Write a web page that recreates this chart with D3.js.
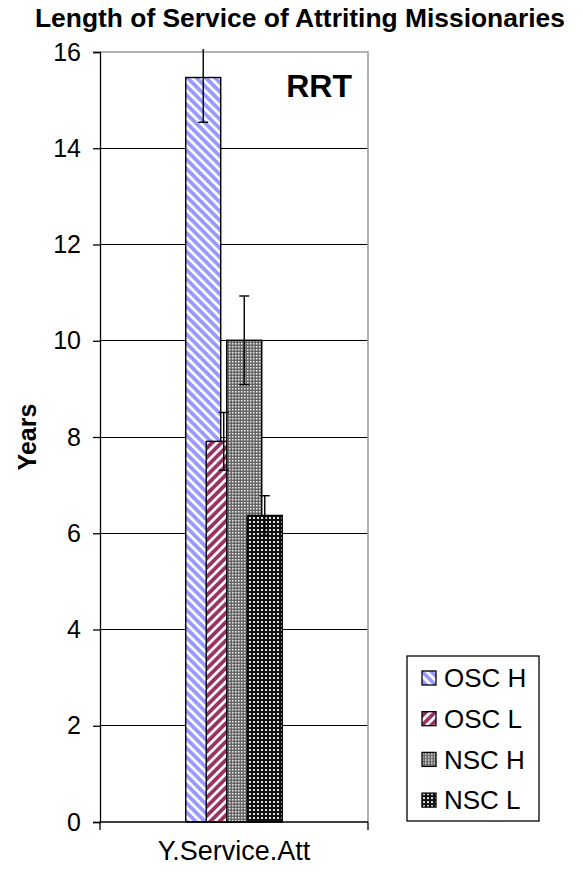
<!DOCTYPE html>
<html>
<head>
<meta charset="utf-8">
<script src="https://cdn.jsdelivr.net/npm/d3@7"></script>
<style>
  body { margin: 0; background: #fff; }
  svg { font-family: "Liberation Sans", Arial, sans-serif; }
</style>
</head>
<body>
<div id="chart"></div>
<script>
// chart values
var categories = ["Y.Service.Att"];
var seriesNames = ["OSC H", "OSC L", "NSC H", "NSC L"];
var seriesMeans = [15.47, 7.91, 10.01, 6.37];
var seriesErrors = [0.93, 0.60, 0.92, 0.41];
var yTickValues = [0, 2, 4, 6, 8, 10, 12, 14, 16];

var svgWidth = 583;
var svgHeight = 872;

var margin = { top: 52, left: 100, right: 215, bottom: 50 };
var width = svgWidth - margin.left - margin.right;   // 268
var height = svgHeight - margin.top - margin.bottom; // 770

var svg = d3.select("#chart")
    .append("svg")
    .attr("width", svgWidth)
    .attr("height", svgHeight);

// Fill patterns (Excel-like)
var defs = svg.append("defs");

function stripes(id, color, angle) {
    var p = defs.append("pattern")
        .attr("id", id)
        .attr("patternUnits", "userSpaceOnUse")
        .attr("width", 6.5)
        .attr("height", 6.5)
        .attr("patternTransform", "rotate(" + angle + ")");
    p.append("rect").attr("width", 6.5).attr("height", 6.5).attr("fill", color);
    p.append("rect").attr("width", 2.7).attr("height", 6.5).attr("fill", "#fff");
}
stripes("pOscH", "#9999ff", -45);
stripes("pOscL", "#993366", 45);

var pNh = defs.append("pattern")
    .attr("id", "pNscH")
    .attr("patternUnits", "userSpaceOnUse")
    .attr("width", 3).attr("height", 3);
pNh.append("rect").attr("width", 3).attr("height", 3).attr("fill", "#666");
pNh.append("rect").attr("width", 1.5).attr("height", 1.5).attr("fill", "#eee");

var pNl = defs.append("pattern")
    .attr("id", "pNscL")
    .attr("patternUnits", "userSpaceOnUse")
    .attr("width", 4).attr("height", 4);
pNl.append("rect").attr("width", 4).attr("height", 4).attr("fill", "#111");
pNl.append("rect").attr("x", 1).attr("y", 1).attr("width", 2).attr("height", 2).attr("fill", "#e0e0e0");

var fills = ["url(#pOscH)", "url(#pOscL)", "url(#pNscH)", "url(#pNscL)"];

var chartGroup = svg.append("g")
    .attr("transform", `translate(${margin.left}, ${margin.top})`);

// Scales
var yLinearScale = d3.scaleLinear()
    .domain([0, 16])
    .range([height, 0]);

var xCat = d3.scaleBand()
    .domain(categories)
    .range([0, width]);

// Excel style: overlapping bars within the group
var overlap = 0.414, gapWidth = 4.9;
var n = seriesNames.length;
var barW = width / (gapWidth + 1 + (n - 1) * (1 - overlap));
var step = barW * (1 - overlap);
var groupW = barW + (n - 1) * step;
var groupStart = xCat(categories[0]) + (xCat.bandwidth() - groupW) / 2;

var xSer = d3.scalePoint()
    .domain(seriesNames)
    .range([groupStart, groupStart + (n - 1) * step]);

// Grid lines
chartGroup.append("g")
    .selectAll("line")
    .data(yTickValues.filter(d => d > 0 && d < 16))
    .enter()
    .append("line")
    .attr("x1", 0)
    .attr("x2", width)
    .attr("y1", d => yLinearScale(d))
    .attr("y2", d => yLinearScale(d))
    .attr("stroke", "#000")
    .attr("stroke-width", 1)
    .attr("shape-rendering", "crispEdges");

// Plot area border (top + right, gray)
chartGroup.append("path")
    .attr("d", `M0,${yLinearScale(16)}H${width}V${height}`)
    .attr("fill", "none")
    .attr("stroke", "#999")
    .attr("stroke-width", 1.5);

var data = seriesNames.map((s, i) => ({ name: s, mean: seriesMeans[i], err: seriesErrors[i], fill: fills[i] }));

// Bars
chartGroup.selectAll(".bar")
    .data(data)
    .enter()
    .append("rect")
    .attr("class", "bar")
    .attr("x", d => xSer(d.name))
    .attr("y", d => yLinearScale(d.mean))
    .attr("width", barW)
    .attr("height", d => height - yLinearScale(d.mean))
    .attr("fill", d => d.fill)
    .attr("stroke", "#000")
    .attr("stroke-width", 1.4);

// Error bars (clipped a little above the plot top, as in the original)
var capW = 5;
var errG = chartGroup.selectAll(".err")
    .data(data)
    .enter()
    .append("g")
    .attr("class", "err")
    .attr("stroke", "#000")
    .attr("stroke-width", 1.4);

errG.append("line")
    .attr("x1", d => xSer(d.name) + barW / 2)
    .attr("x2", d => xSer(d.name) + barW / 2)
    .attr("y1", d => Math.max(yLinearScale(d.mean + d.err), -3))
    .attr("y2", d => yLinearScale(d.mean - d.err));
errG.append("line")
    .attr("x1", d => xSer(d.name) + barW / 2 - capW)
    .attr("x2", d => xSer(d.name) + barW / 2 + capW)
    .attr("y1", d => yLinearScale(d.mean - d.err))
    .attr("y2", d => yLinearScale(d.mean - d.err));
errG.filter(d => d.mean + d.err <= 16).append("line")
    .attr("x1", d => xSer(d.name) + barW / 2 - capW)
    .attr("x2", d => xSer(d.name) + barW / 2 + capW)
    .attr("y1", d => yLinearScale(d.mean + d.err))
    .attr("y2", d => yLinearScale(d.mean + d.err));

// Y axis
var leftAxis = d3.axisLeft(yLinearScale)
    .tickValues(yTickValues)
    .tickSize(7)
    .tickPadding(12)
    .tickFormat(d3.format("d"));

var yAxis = chartGroup.append("g").call(leftAxis);
yAxis.select(".domain").attr("stroke", "#000").attr("stroke-width", 1.3);
yAxis.selectAll(".tick line").attr("stroke", "#000").attr("stroke-width", 1.3);
yAxis.selectAll("text")
    .style("font-size", "25px")
    .style("font-family", "Liberation Sans, Arial, sans-serif")
    .attr("fill", "#000");

// X axis: line plus the two boundary ticks
var xAxisG = chartGroup.append("g")
    .attr("transform", `translate(0, ${height})`);
xAxisG.append("line")
    .attr("x1", 0).attr("x2", width)
    .attr("stroke", "#000").attr("stroke-width", 1.3);
xAxisG.selectAll(".xtick")
    .data(xCat.range())
    .enter()
    .append("line")
    .attr("x1", d => d).attr("x2", d => d)
    .attr("y1", 0).attr("y2", 8)
    .attr("stroke", "#000").attr("stroke-width", 1.3);
xAxisG.selectAll(".xlabel")
    .data(categories)
    .enter()
    .append("text")
    .attr("x", d => xCat(d) + xCat.bandwidth() / 2)
    .attr("y", 38)
    .attr("text-anchor", "middle")
    .style("font-size", "27px")
    .text(d => d);

// Title
svg.append("text")
    .attr("x", 35)
    .attr("y", 27)
    .attr("text-anchor", "start")
    .style("font-size", "26.4px")
    .style("font-weight", "bold")
    .text("Length of Service of Attriting Missionaries");

// Y axis title
svg.append("text")
    .attr("transform", `translate(36, ${margin.top + height / 2}) rotate(-90)`)
    .attr("text-anchor", "middle")
    .style("font-size", "25px")
    .style("font-weight", "bold")
    .text("Years");

// RRT label
chartGroup.append("text")
    .attr("x", 252)
    .attr("y", 45)
    .attr("text-anchor", "end")
    .style("font-size", "32px")
    .style("font-weight", "bold")
    .text("RRT");

// Legend
var legend = svg.append("g").attr("transform", "translate(407, 656)");
legend.append("rect")
    .attr("width", 132)
    .attr("height", 165)
    .attr("fill", "#fff")
    .attr("stroke", "#000")
    .attr("stroke-width", 1.3);

var legendItems = legend.selectAll(".li")
    .data(data)
    .enter()
    .append("g")
    .attr("transform", (d, i) => `translate(15, ${22 + i * 40.7})`);
legendItems.append("rect")
    .attr("x", 0).attr("y", -7)
    .attr("width", 14).attr("height", 14)
    .attr("fill", d => d.fill)
    .attr("stroke", "#000")
    .attr("stroke-width", 1.3);
legendItems.append("text")
    .attr("x", 22)
    .attr("y", 0)
    .attr("dy", "0.36em")
    .style("font-size", "26px")
    .text(d => d.name);
</script>
</body>
</html>
